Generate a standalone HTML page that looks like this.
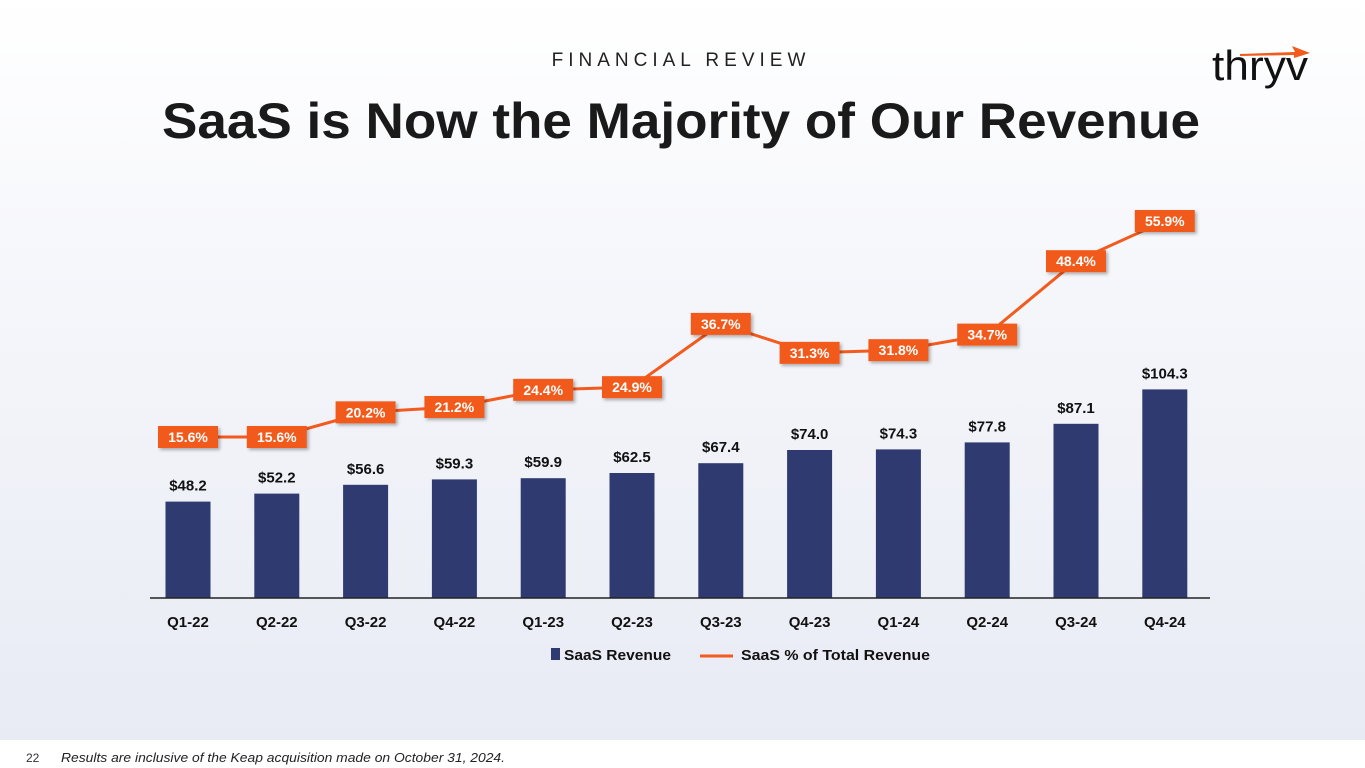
<!DOCTYPE html>
<html><head><meta charset="utf-8"><style>
html,body{margin:0;padding:0;width:1365px;height:768px;overflow:hidden;font-family:"Liberation Sans",sans-serif}
</style></head><body>
<svg id="chart" width="1365" height="768" viewBox="0 0 1365 768" xmlns="http://www.w3.org/2000/svg" font-family="Liberation Sans, sans-serif">
<defs>
<linearGradient id="bg" x1="0" y1="0" x2="0" y2="1">
<stop offset="0" stop-color="#ffffff"/><stop offset="0.35" stop-color="#f6f7fb"/><stop offset="1" stop-color="#e8ebf4"/>
</linearGradient>
<filter id="sh" x="-20%" y="-20%" width="150%" height="160%"><feDropShadow dx="2" dy="2" stdDeviation="1.5" flood-color="#000" flood-opacity="0.3"/></filter>
</defs>
<rect x="0" y="0" width="1365" height="740" fill="url(#bg)"/>
<rect x="0" y="740" width="1365" height="28" fill="#ffffff"/>
<text x="681" y="66" text-anchor="middle" font-size="19" letter-spacing="5" fill="#222">FINANCIAL REVIEW</text>
<text x="681" y="138" text-anchor="middle" font-size="50" font-weight="bold" fill="#1a1a1a" textLength="1038" lengthAdjust="spacingAndGlyphs">SaaS is Now the Majority of Our Revenue</text>
<g>
<text x="1212" y="80" font-size="42" fill="#111" textLength="96" lengthAdjust="spacingAndGlyphs">thryv</text>
<path d="M1240 54 L1295 52 L1292 46 L1310 53 L1294 58 L1294 55 L1240 56 Z" fill="#f25a1e"/>
</g>
<g id="plot"></g>
<g>
<rect x="551" y="648" width="9" height="12" fill="#2e3a70"/>
<text x="564" y="660" font-size="15" font-weight="bold" fill="#111" textLength="107" lengthAdjust="spacingAndGlyphs">SaaS Revenue</text>
<line x1="700" y1="656" x2="733" y2="656" stroke="#f25a1e" stroke-width="3"/>
<text x="741" y="660" font-size="15" font-weight="bold" fill="#111" textLength="189" lengthAdjust="spacingAndGlyphs">SaaS % of Total Revenue</text>
</g>
<text x="26" y="762" font-size="12" fill="#333">22</text>
<text x="61" y="762" font-size="13" font-style="italic" fill="#222" textLength="444" lengthAdjust="spacingAndGlyphs">Results are inclusive of the Keap acquisition made on October 31, 2024.</text>
</svg>
<script>
const categories=["Q1-22","Q2-22","Q3-22","Q4-22","Q1-23","Q2-23","Q3-23","Q4-23","Q1-24","Q2-24","Q3-24","Q4-24"];
const revenue=[48.2,52.2,56.6,59.3,59.9,62.5,67.4,74.0,74.3,77.8,87.1,104.3];
const revenueLabels=["$48.2","$52.2","$56.6","$59.3","$59.9","$62.5","$67.4","$74.0","$74.3","$77.8","$87.1","$104.3"];
const saasPct=[15.6,15.6,20.2,21.2,24.4,24.9,36.7,31.3,31.8,34.7,48.4,55.9];
const pctLabels=["15.6%","15.6%","20.2%","21.2%","24.4%","24.9%","36.7%","31.3%","31.8%","34.7%","48.4%","55.9%"];

const NS="http://www.w3.org/2000/svg";
const g=document.getElementById('plot');
const base=598;
function xPos(i){return 188+i*88.8;}
function yBar(v){return base-v*2.0;}
function yPct(v){return 437-(v-15.6)*5.36;}
function mk(tag,attrs){const e=document.createElementNS(NS,tag);for(const k in attrs)e.setAttribute(k,attrs[k]);g.appendChild(e);return e;}

revenue.forEach((v,i)=>{
  const r=mk('rect',{x:xPos(i)-22.5,y:yBar(v),width:45,height:base-yBar(v),fill:'#2e3a70'});
  
  
  const t=mk('text',{x:xPos(i),y:yBar(v)-11,'text-anchor':'middle','font-size':15,'font-weight':'bold',fill:'#111'});
  t.textContent=revenueLabels[i];
  
  
  const c=mk('text',{x:xPos(i),y:627,'text-anchor':'middle','font-size':15,'font-weight':'bold',fill:'#111'});
  c.textContent=categories[i];
  
  
});
const ax=mk('line',{x1:150,y1:base,x2:1210,y2:base,stroke:'#222','stroke-width':1.5});



const pts=saasPct.map((v,i)=>xPos(i)+','+yPct(v)).join(' ');
const pl=mk('polyline',{points:pts,fill:'none',stroke:'#f25a1e','stroke-width':3,'stroke-linejoin':'round'});



saasPct.forEach((v,i)=>{
  const b=mk('rect',{x:xPos(i)-30,y:yPct(v)-11,width:60,height:22,fill:'#f25a1e',filter:'url(#sh)'});
  
  
  const t=mk('text',{x:xPos(i),y:yPct(v)+5,'text-anchor':'middle','font-size':14,'font-weight':'bold',fill:'#fff'});
  t.textContent=pctLabels[i];
  
  
});
</script>
</body></html>
